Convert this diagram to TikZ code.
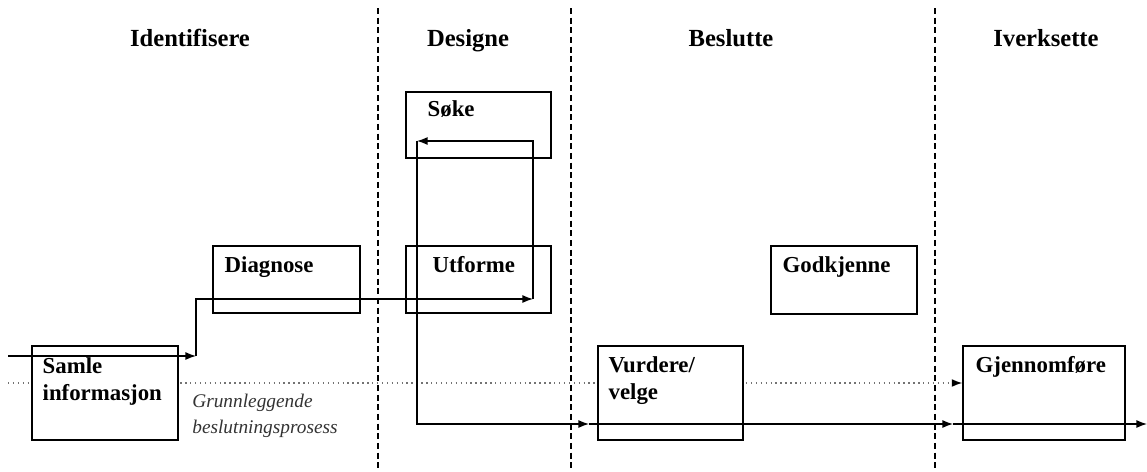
\documentclass[tikz,border=0pt]{standalone}
\usepackage{fontspec}
\setmainfont{Liberation Serif}
\usepackage{tikz}
\usetikzlibrary{
  arrows.meta,%
  calc,%
  positioning
}
\tikzset{>={Latex[length=6pt,width=4.5pt]}}
\tikzset{font=\normalsize}
\tikzset{
  boks/.style={draw, fill=white, line width=0.8pt, inner sep=0pt},
  boksnavn/.style={font=\bfseries\fontsize{13}{15.3}\selectfont, align=left,
    anchor=base west, inner sep=0pt},
  fase/.style={font=\bfseries\fontsize{14}{16}\selectfont, anchor=base, inner sep=0pt},
  pil/.style={->, line width=0.7pt},
  prikk/.style={-{Latex[length=6pt,width=4.5pt,black]}, black!55, dotted, line width=0.8pt},
  skille/.style={line width=0.6pt, dash pattern=on 3.5pt off 2pt}
}
\pgfdeclarelayer{bg}
\pgfsetlayers{bg,main}

\begin{document}
\begin{tikzpicture}[x=0.02cm, y=-0.02cm]
  \useasboundingbox (0,0) rectangle (1147,471);
  % faser
  \node[fase] (ident) at (190,46) {Identifisere};
  \node[fase] (design) at (468,46) {Designe};
  \node[fase] (beslut) at (731,46) {Beslutte};
  \node[fase] (iverk) at (1046,46) {Iverksette};
  \foreach \x in {378,571,935}
    \draw[skille] (\x,8) -- (\x,471);
  % boksene
  \node[boks, minimum width=2.92cm, minimum height=1.88cm,
    label={[boksnavn, xshift=0.22cm, yshift=-1.10cm]north west:Samle\\informasjon}]
    (samle) at (105,393) {};
  \node[boks, minimum width=2.94cm, minimum height=1.34cm,
    label={[boksnavn, xshift=0.24cm, yshift=-0.54cm]north west:Diagnose}]
    (diag) at (286.5,279.5) {};
  \node[boks, minimum width=2.90cm, minimum height=1.32cm,
    label={[boksnavn, xshift=0.44cm, yshift=-0.50cm]north west:Søke}]
    (soke) at (478.5,125) {};
  \node[boks, minimum width=2.90cm, minimum height=1.34cm,
    label={[boksnavn, xshift=0.54cm, yshift=-0.54cm]north west:Utforme}]
    (utf) at (478.5,279.5) {};
  \node[boks, minimum width=2.92cm, minimum height=1.36cm,
    label={[boksnavn, xshift=0.24cm, yshift=-0.54cm]north west:Godkjenne}]
    (godk) at (844,280) {};
  \node[boks, minimum width=2.90cm, minimum height=1.88cm,
    label={[boksnavn, xshift=0.22cm, yshift=-1.08cm]north west:Vurdere/\\velge}]
    (vurd) at (670.5,393) {};
  \node[boks, minimum width=3.24cm, minimum height=1.88cm,
    label={[boksnavn, xshift=0.26cm, yshift=-0.54cm]north west:Gjennomføre}]
    (gjen) at (1044,393) {};
  \node[font=\itshape\fontsize{11}{14.7}\selectfont, text=black!80, align=left,
    anchor=base west, inner sep=0pt]
    (grunn) at (192,433) {Grunnleggende\\beslutningsprosess};
  % den prikkete linjen
  \coordinate (prikkinn) at (8,383);
  \begin{pgfonlayer}{bg}
    \draw[prikk] (prikkinn) -- (gjen.west |- prikkinn);
  \end{pgfonlayer}
  % hovedlinjen
  \coordinate (inn) at (8,356);
  \coordinate (k1) at (196,356);
  \coordinate (k2) at (533,299);
  \coordinate (k3) at (417,141);
  \coordinate (k4) at (589,424);
  \coordinate (k5) at (953,424);
  \coordinate (ut) at (1147,424);
  \draw[pil] (inn) -- (k1);
  \draw[pil] (k1) |- (k2);
  \draw[pil] (k2) |- (k3);
  \draw[pil] (k3) |- (k4);
  \draw[pil] (k4) -- (k5);
  \draw[pil] (k5) -- (ut);
\end{tikzpicture}
\end{document}
